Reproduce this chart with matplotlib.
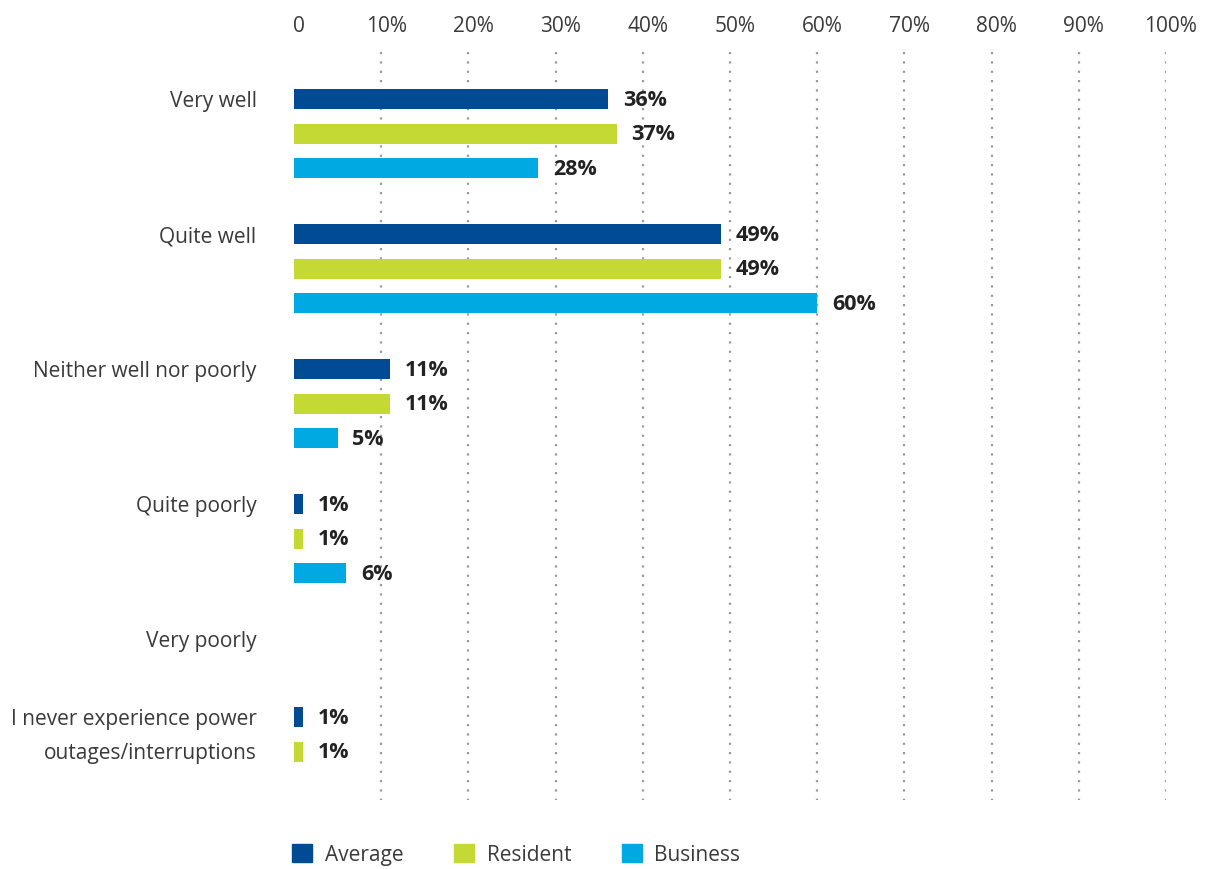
import matplotlib.pyplot as plt
from matplotlib.patches import Patch
from matplotlib.transforms import ScaledTranslation

plt.rcParams['font.family'] = ['Open Sans', 'DejaVu Sans']

# survey answers and percentage shares per respondent group
categories = ['Very well', 'Quite well', 'Neither well nor poorly',
              'Quite poorly', 'Very poorly',
              'I never experience power\noutages/interruptions']
series = ['Average', 'Resident', 'Business']
average = [36, 49, 11, 1, None, 1]
resident = [37, 49, 11, 1, None, 1]
business = [28, 60, 5, 6, None, None]
ticks = [0, 10, 20, 30, 40, 50, 60, 70, 80, 90, 100]
tick_labels = ['0'] + [f'{t}%' for t in ticks[1:]]

colors = ['#004b93', '#c5d934', '#00a9e2']
text_col = '#3a3a3a'

W, H = 1218, 869
fig = plt.figure(figsize=(W / 100, H / 100), dpi=100)
# axes in pixel-like coordinates: y runs 52 (top) .. 800 (bottom)
ax = fig.add_axes([294 / W, (H - 800) / H, 872 / W, 748 / H])
ax.set_xlim(0, 100)
ax.set_ylim(800, 52)

group_top = [99, 234, 369, 504, 639, 717]
row_step = 34.6
bar_h = 20

for gi, top in enumerate(group_top):
    for si, vals in enumerate([average, resident, business]):
        v = vals[gi]
        if v is None:
            continue
        y = top + si * row_step
        ax.barh(y, v, height=bar_h, color=colors[si], zorder=3)
        ax.text(v + 1.7, y + 1, f'{v}%', va='center', ha='left',
                fontsize=15.5, fontweight='bold', color='#222222', zorder=4)

# dotted vertical guides
ax.vlines(ticks[1:], 52, 800, colors='#9a9a9a', linewidth=1.6,
          linestyles=(0, (1, 3.2)), zorder=1)

ax.xaxis.tick_top()
ax.set_xticks(ticks)
ax.set_xticklabels(tick_labels)
ax.tick_params(axis='x', length=0, pad=11, labelsize=15, labelcolor=text_col)
shift = ScaledTranslation(5 / 100, 0, fig.dpi_scale_trans)
for lab in ax.get_xticklabels():
    lab.set_transform(lab.get_transform() + shift)

label_y = group_top[:-1] + [group_top[-1] + row_step / 2 - 7]
ax.set_yticks(label_y)
ax.set_yticklabels(categories, linespacing=1.8)
ax.tick_params(axis='y', length=0, pad=27, labelsize=15, labelcolor=text_col)

for s in ax.spines.values():
    s.set_visible(False)

handles = [Patch(color=c, label=s) for c, s in zip(colors, series)]
leg = fig.legend(handles=handles, ncol=3, loc='lower left',
                 bbox_to_anchor=(282 / W, -7 / H), frameon=False,
                 fontsize=15, handlelength=0.95, handleheight=0.95,
                 handletextpad=0.6, columnspacing=2.45, borderpad=0,
                 labelcolor=text_col)

fig.savefig('out.png', dpi=100)
